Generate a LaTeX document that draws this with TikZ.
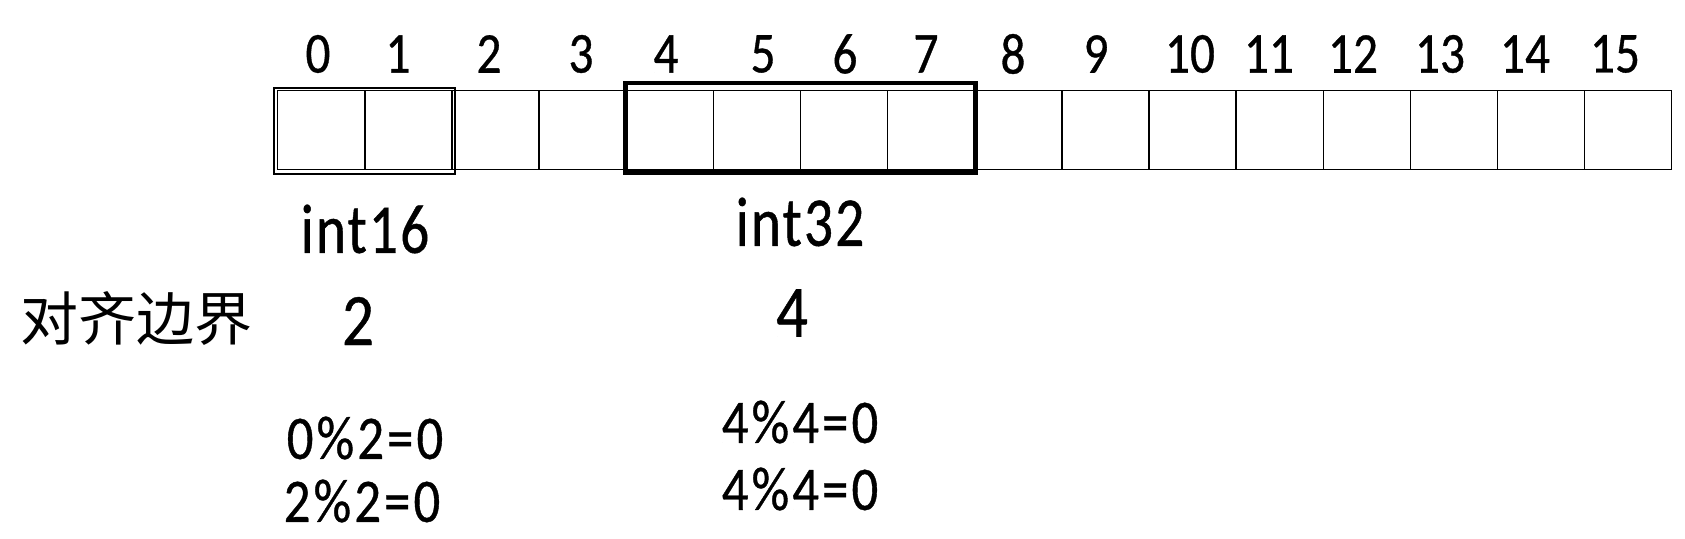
\documentclass[tikz,border=0pt]{standalone}
\usepackage{fontspec}
\setmainfont[FakeStretch=0.85,FakeBold=0.6]{Carlito}
\newfontfamily\spaced[FakeStretch=0.85,FakeBold=0.6,LetterSpace=5]{Carlito}
\newfontfamily\typefont[FakeStretch=0.82,FakeBold=0.6,LetterSpace=3]{Carlito}
\newfontfamily\cjk{Noto Sans CJK SC}
\begin{document}
\begin{tikzpicture}[x=1pt,y=-1pt,
  cellbox/.style={draw,line width=1.4pt,minimum width=87.125pt,minimum height=79pt,inner sep=0pt,anchor=north west},
  idx/.style={font=\fontsize{58}{58}\selectfont,inner sep=0pt},
  typelab/.style={font=\typefont\fontsize{70}{70}\selectfont,inner sep=0pt},
  alignlab/.style={font=\fontsize{74}{74}\selectfont,inner sep=0pt},
  modlab/.style={font=\spaced\fontsize{62}{62}\selectfont,inner sep=0pt},
  grp16/.style={draw,line width=2pt},
  grp32/.style={draw,line width=4.5pt}]
\useasboundingbox (0,0) rectangle (1685,538);
\foreach \i in {0,...,15}{
  \node[cellbox] (c\i) at (277+87.125*\i,90) {};
}
\foreach \i/\x in {0/318,1/398,2/489,3/581,4/666,5/763,6/845,7/926,8/1013,9/1096,10/1190,11/1269,12/1353,13/1440,14/1525,15/1615}{
  \node[idx] (d\i) at (\x,54) {\i};
}
\draw[grp16] ([shift={(-3pt,2pt)}]c0.north west) rectangle ([shift={(2pt,-4pt)}]c1.south east);
\draw[grp32] ([yshift=7pt]c4.north west) rectangle ([yshift=-2pt]c7.south east);
\node[typelab] (t16) at (365,229) {int16};
\node[typelab] (t32) at (800,222) {int32};
\node[font=\cjk\fontsize{58}{58}\selectfont,inner sep=0pt] (lab) at (136,319) {对齐边界};
\node[alignlab] (a16) at (358,321) {2};
\node[alignlab] (a32) at (792,313) {4};
\node[modlab] (m1) at (365,438) {0\%2=0};
\node[modlab] (m2) at (362,501) {2\%2=0};
\node[modlab] (m3) at (800,422) {4\%4=0};
\node[modlab] (m4) at (800,489) {4\%4=0};
\end{tikzpicture}
\end{document}
